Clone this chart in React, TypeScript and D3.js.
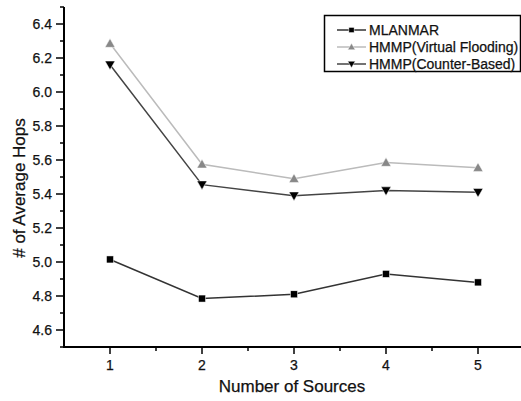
import React from "react";
import * as d3 from "d3";

const sources = [1, 2, 3, 4, 5];
const mlanmar = [5.015, 4.785, 4.81, 4.93, 4.88];
const hmmpVF = [6.285, 5.575, 5.49, 5.585, 5.555];
const hmmpCB = [6.16, 5.455, 5.39, 5.42, 5.41];
const yTicks = [4.6, 4.8, 5.0, 5.2, 5.4, 5.6, 5.8, 6.0, 6.2, 6.4];
const yMinor = [4.5, 4.7, 4.9, 5.1, 5.3, 5.5, 5.7, 5.9, 6.1, 6.3, 6.5];
const xMinor = [1.5, 2.5, 3.5, 4.5];
const legendNames = ["MLANMAR", "HMMP(Virtual Flooding)", "HMMP(Counter-Based)"];

const W = 521, H = 401;
const left = 64, right = 524, top = 7, bottom = 347;

export default function App() {
  const x = d3.scaleLinear().domain([0.5, 5.5]).range([left, right]);
  const y = d3.scaleLinear().domain([4.5, 6.5]).range([bottom, top]);
  const line = d3.line<number>().x((_, i) => x(sources[i])).y((d) => y(d));
  const font = "Arial, 'Liberation Sans', sans-serif";
  const txt = { fill: "#111", stroke: "#111", strokeWidth: 0.25 };

  const series = [
    { name: legendNames[0], data: mlanmar, stroke: "#333", fill: "#000", shape: "square" },
    { name: legendNames[1], data: hmmpVF, stroke: "#bbb", fill: "#888", shape: "up" },
    { name: legendNames[2], data: hmmpCB, stroke: "#444", fill: "#000", shape: "down" },
  ];

  const marker = (shape: string, cx: number, cy: number, fill: string, key: any, s = 1) => {
    if (shape === "square") {
      const a = 3.5 * s;
      return <rect key={key} x={cx - a} y={cy - a} width={2 * a} height={2 * a} fill={fill} stroke="#fff" strokeWidth={0.5} />;
    }
    const r = 5 * s;
    const pts = shape === "up"
      ? [[cx, cy - r], [cx + r, cy + r * 0.75], [cx - r, cy + r * 0.75]]
      : [[cx, cy + r], [cx + r, cy - r * 0.75], [cx - r, cy - r * 0.75]];
    return <polygon key={key} points={pts.map((p) => p.join(",")).join(" ")} fill={fill} stroke="#fff" strokeWidth={0.5} />;
  };

  return (
    <svg width={W} height={H} style={{ position: "absolute", left: 0, top: 0, background: "#fff" }} fontFamily={font}>
      <rect x={0} y={0} width={W} height={H} fill="#fff" />
      {/* axes */}
      <line x1={left} y1={top} x2={left} y2={bottom} stroke="#000" strokeWidth={2} />
      <line x1={left - 1} y1={bottom} x2={W} y2={bottom} stroke="#000" strokeWidth={2} />
      {yTicks.map((t) => (
        <g key={"yt" + t}>
          <line x1={left - 8} x2={left} y1={y(t)} y2={y(t)} stroke="#000" strokeWidth={1.5} />
          <text x={left - 12} y={y(t)} dy="0.36em" textAnchor="end" fontSize={14} {...txt}>{t.toFixed(1)}</text>
        </g>
      ))}
      {yMinor.map((t) => (
        <line key={"ym" + t} x1={left - 4} x2={left} y1={y(t)} y2={y(t)} stroke="#000" strokeWidth={1.5} />
      ))}
      {sources.map((s) => (
        <g key={"xt" + s}>
          <line x1={x(s)} x2={x(s)} y1={bottom} y2={bottom + 7} stroke="#000" strokeWidth={1.5} />
          <text x={x(s)} y={bottom + 23} textAnchor="middle" fontSize={14} {...txt}>{s}</text>
        </g>
      ))}
      {xMinor.map((s) => (
        <line key={"xm" + s} x1={x(s)} x2={x(s)} y1={bottom} y2={bottom + 4} stroke="#000" strokeWidth={1.5} />
      ))}
      <text x={292} y={392} textAnchor="middle" fontSize={17} {...txt}>Number of Sources</text>
      <text transform={`translate(25,188) rotate(-90)`} textAnchor="middle" fontSize={17} {...txt}>
        # of Average Hops
      </text>
      {/* series */}
      {series.map((se, si) => (
        <g key={"s" + si}>
          <path d={line(se.data) || ""} fill="none" stroke={se.stroke} strokeWidth={1.5} />
          {se.data.map((v, i) => marker(se.shape, x(sources[i]), y(v), se.fill, i))}
        </g>
      ))}
      {/* legend */}
      <rect x={324.5} y={15.5} width={196} height={56} fill="#fff" stroke="#000" strokeWidth={1.5} />
      {series.map((se, i) => {
        const ly = 30 + i * 17;
        return (
          <g key={"lg" + i}>
            <line x1={337} x2={366} y1={ly} y2={ly} stroke={se.stroke} strokeWidth={1.5} />
            {marker(se.shape, 351.5, ly, se.fill, "m", 0.75)}
            <text x={369} y={ly} dy="0.36em" fontSize={14} {...txt}>{se.name}</text>
          </g>
        );
      })}
    </svg>
  );
}
